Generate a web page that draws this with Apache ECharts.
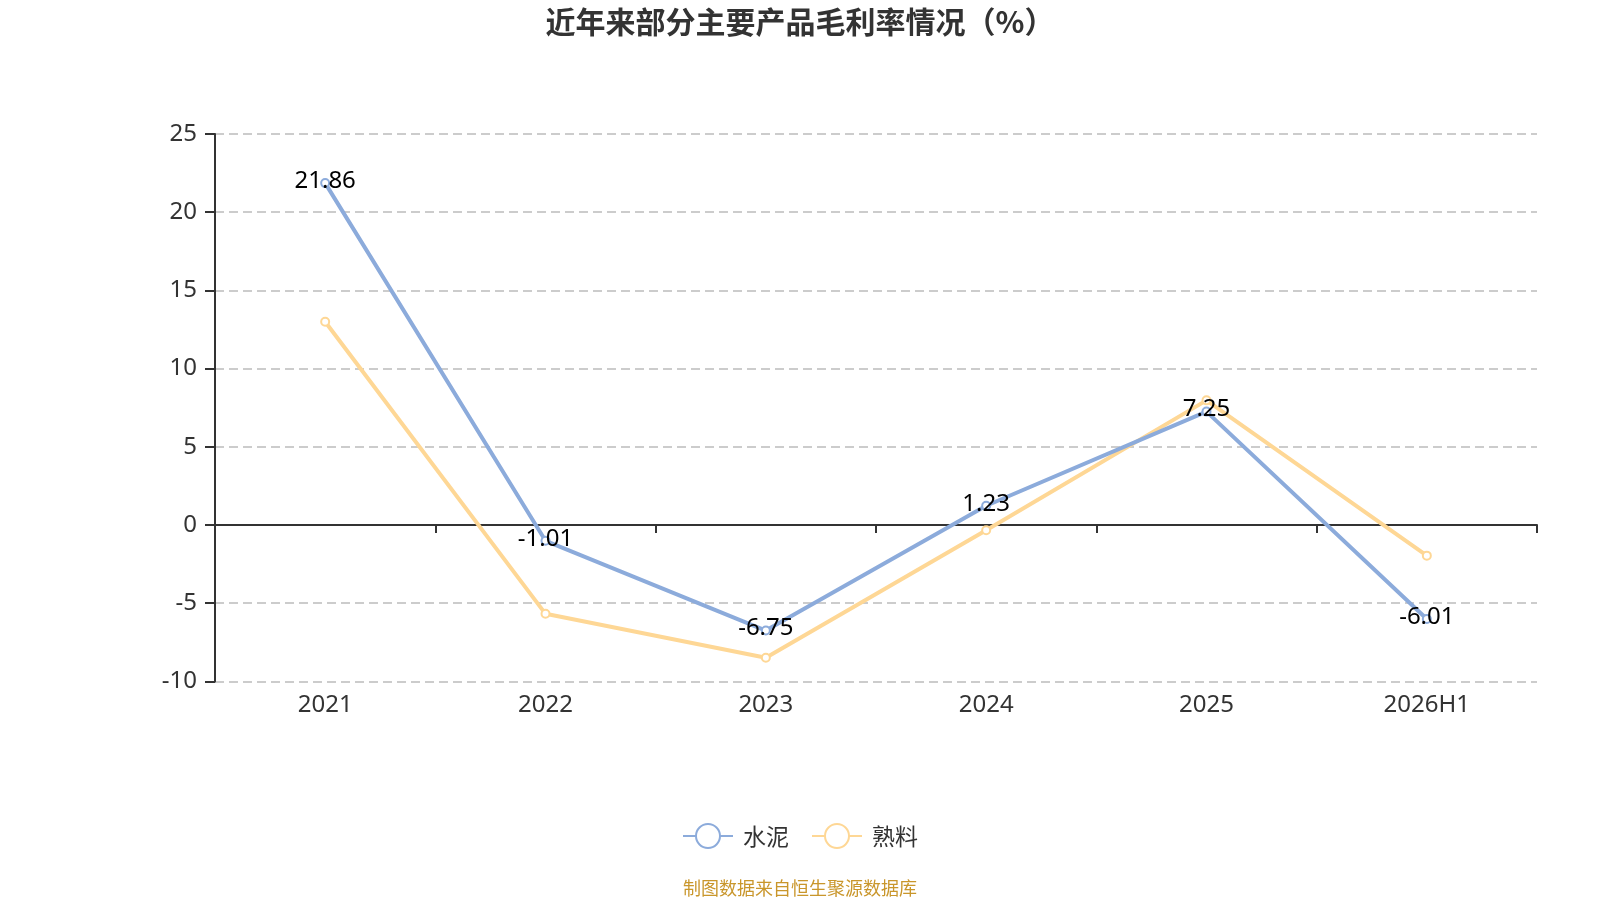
<!DOCTYPE html>
<html><head><meta charset="utf-8">
<script src="https://cdn.jsdelivr.net/npm/echarts@6/dist/echarts.min.js"></script>
<style>html,body{margin:0;padding:0;background:#fff}#c{width:1600px;height:900px}</style>
</head><body><div id="c"></div>
<script>
const categories = ['2021','2022','2023','2024','2025','2026H1'];
const cement = [21.86, -1.01, -6.75, 1.23, 7.25, -6.01];
const clinker = [13.0, -5.68, -8.49, -0.33, 7.97, -1.96];
const yTicks = {min: -10, max: 25, interval: 5};
const FONT = '"Noto Sans", "Noto Sans CJK SC", sans-serif';
const CJK = '"Noto Sans CJK SC", "Noto Sans", sans-serif';
const chart = echarts.init(document.getElementById('c'));
chart.setOption({
  textStyle: {fontFamily: FONT},
  title: {text: '近年来部分主要产品毛利率情况（%）', left: 'center', top: 2,
    textStyle: {fontSize: 30, fontWeight: 'bold', color: '#333', fontFamily: CJK}},
  legend: {bottom: 46, left: 'center', itemWidth: 50, itemHeight: 30, itemGap: 22,
    textStyle: {fontSize: 23, color: '#333', fontFamily: CJK, padding: [0, 0, 0, 5]},
    data: ['水泥','熟料']},
  graphic: [{type: 'text', left: 'center', top: 879,
    style: {text: '制图数据来自恒生聚源数据库', fill: '#c9962b', fontSize: 18, fontFamily: CJK}}],
  grid: {left: 215, right: 63, top: 134, bottom: 218.6},
  xAxis: [{type: 'category', data: categories, position: 'bottom',
      axisLine: {show: false, onZero: false}, axisTick: {show: false},
      axisLabel: {fontSize: 24, color: '#333', margin: 12}},
    {type: 'category', data: categories, position: 'bottom',
      axisLine: {show: true, onZero: true, lineStyle: {color: '#333', width: 2}},
      axisTick: {show: true, length: 8, lineStyle: {color: '#333', width: 2}},
      axisLabel: {show: false}}],
  yAxis: {type: 'value', min: yTicks.min, max: yTicks.max, interval: yTicks.interval,
    axisLine: {show: true, lineStyle: {color: '#333', width: 2}},
    axisTick: {show: true, length: 10, lineStyle: {color: '#333', width: 2}},
    axisLabel: {fontSize: 24, color: '#333', margin: 18},
    splitLine: {lineStyle: {type: [9, 5], color: '#cccccc', width: 2}}},
  series: [
    {name: '水泥', type: 'line', data: cement, xAxisIndex: 0, symbol: 'emptyCircle', symbolSize: 8,
      itemStyle: {color: '#8cabdb', borderWidth: 2}, lineStyle: {width: 4, color: '#8cabdb'},
      label: {show: true, position: 'inside', offset: [0, -2], fontSize: 24, color: '#000', fontFamily: FONT},
      z: 3},
    {name: '熟料', type: 'line', data: clinker, xAxisIndex: 0, symbol: 'emptyCircle', symbolSize: 8,
      itemStyle: {color: '#fed795', borderWidth: 2}, lineStyle: {width: 4, color: '#fed795'}, z: 2}
  ]
});
</script></body></html>
